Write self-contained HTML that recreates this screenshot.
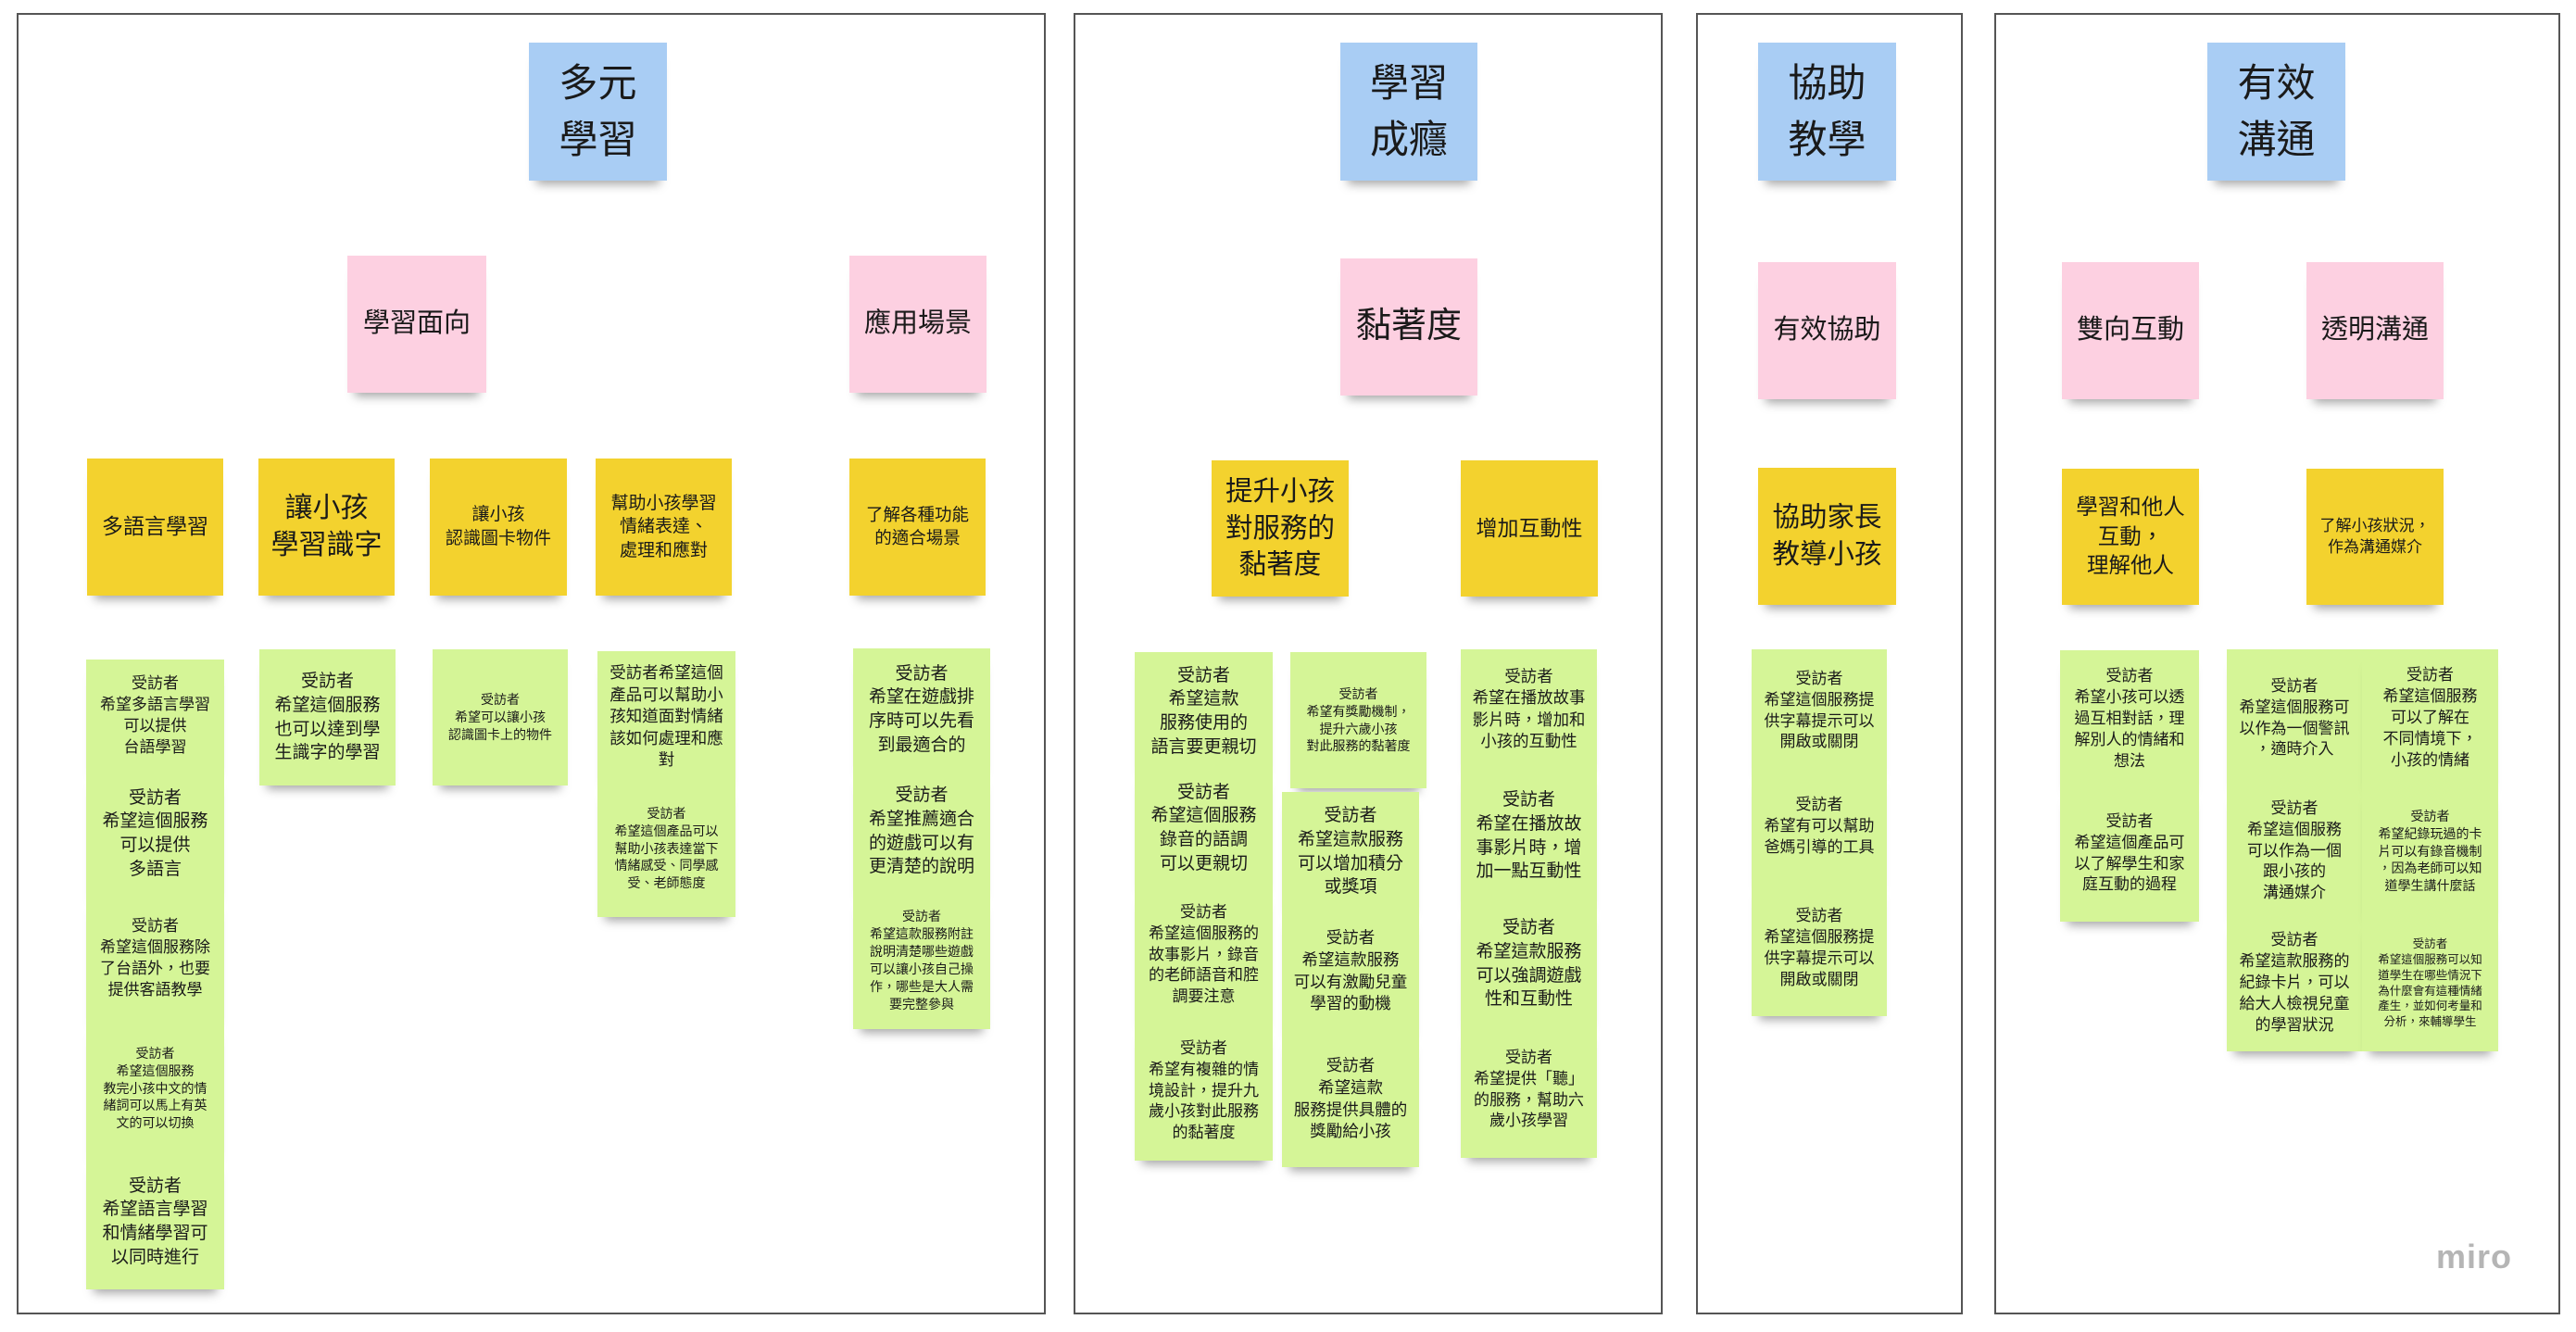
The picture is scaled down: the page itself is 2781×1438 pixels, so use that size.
<!DOCTYPE html>
<html><head><meta charset="utf-8"><style>
html,body{margin:0;padding:0;background:#fff;}
body{width:2781px;height:1438px;position:relative;overflow:hidden;font-family:"Liberation Sans","Noto Sans CJK TC",sans-serif;color:#1a1a1a;}
.f{position:absolute;border:2px solid #555;box-sizing:border-box;background:#fff;}
.s{position:absolute;display:flex;align-items:center;justify-content:center;text-align:center;box-sizing:border-box;line-height:1.35;box-shadow:0 12px 10px -8px rgba(0,0,0,.35);padding:0 4px;}
.b{background:#a9cdf4;font-size:42px;line-height:1.45;}
.p{background:#fdd0e1;font-size:29px;}
.y{background:#f3d22e;}
.g{background:#d5f597;}
.miro{position:absolute;left:2630px;top:1336px;font-size:36px;font-weight:bold;color:#b5b5b5;letter-spacing:1px;}
</style></head><body>
<div class="f" style="left:18px;top:14px;width:1111px;height:1405px"></div>
<div class="f" style="left:1159px;top:14px;width:636px;height:1405px"></div>
<div class="f" style="left:1831px;top:14px;width:288px;height:1405px"></div>
<div class="f" style="left:2153px;top:14px;width:611px;height:1405px"></div>

<div class="s b" style="left:571px;top:46px;width:149px;height:149px">多元<br>學習</div>
<div class="s b" style="left:1447px;top:46px;width:148px;height:149px">學習<br>成癮</div>
<div class="s b" style="left:1898px;top:46px;width:149px;height:149px">協助<br>教學</div>
<div class="s b" style="left:2383px;top:46px;width:149px;height:149px">有效<br>溝通</div>

<div class="s p" style="left:375px;top:276px;width:150px;height:148px">學習面向</div>
<div class="s p" style="left:917px;top:276px;width:148px;height:148px">應用場景</div>
<div class="s p" style="left:1447px;top:279px;width:148px;height:148px;font-size:38px">黏著度</div>
<div class="s p" style="left:1898px;top:283px;width:149px;height:148px">有效協助</div>
<div class="s p" style="left:2226px;top:283px;width:148px;height:148px">雙向互動</div>
<div class="s p" style="left:2490px;top:283px;width:148px;height:148px">透明溝通</div>

<div class="s y" style="left:94px;top:495px;width:147px;height:148px;font-size:23px">多語言學習</div>
<div class="s y" style="left:279px;top:495px;width:147px;height:148px;font-size:30px">讓小孩<br>學習識字</div>
<div class="s y" style="left:464px;top:495px;width:148px;height:148px;font-size:19px">讓小孩<br>認識圖卡物件</div>
<div class="s y" style="left:643px;top:495px;width:147px;height:148px;font-size:19px">幫助小孩學習<br>情緒表達、<br>處理和應對</div>
<div class="s y" style="left:917px;top:495px;width:147px;height:148px;font-size:18.5px">了解各種功能<br>的適合場景</div>
<div class="s y" style="left:1308px;top:497px;width:148px;height:147px;font-size:29.5px">提升小孩<br>對服務的<br>黏著度</div>
<div class="s y" style="left:1577px;top:497px;width:148px;height:147px;font-size:23px">增加互動性</div>
<div class="s y" style="left:1898px;top:505px;width:149px;height:148px;font-size:29.5px">協助家長<br>教導小孩</div>
<div class="s y" style="left:2226px;top:506px;width:148px;height:147px;font-size:23.5px">學習和他人<br>互動，<br>理解他人</div>
<div class="s y" style="left:2490px;top:506px;width:148px;height:147px;font-size:17px">了解小孩狀況，<br>作為溝通媒介</div>

<div class="s g" style="left:93px;top:712px;width:149px;height:122px;font-size:17px">受訪者<br>希望多語言學習<br>可以提供<br>台語學習</div>
<div class="s g" style="left:93px;top:831px;width:149px;height:138px;font-size:19px">受訪者<br>希望這個服務<br>可以提供<br>多語言</div>
<div class="s g" style="left:93px;top:966px;width:149px;height:138px;font-size:17px">受訪者<br>希望這個服務除<br>了台語外，也要<br>提供客語教學</div>
<div class="s g" style="left:93px;top:1101px;width:149px;height:148px;font-size:14px">受訪者<br>希望這個服務<br>教完小孩中文的情<br>緒詞可以馬上有英<br>文的可以切換</div>
<div class="s g" style="left:93px;top:1246px;width:149px;height:146px;font-size:19px">受訪者<br>希望語言學習<br>和情緒學習可<br>以同時進行</div>

<div class="s g" style="left:280px;top:701px;width:147px;height:147px;font-size:19px">受訪者<br>希望這個服務<br>也可以達到學<br>生識字的學習</div>
<div class="s g" style="left:467px;top:701px;width:146px;height:147px;font-size:14px">受訪者<br>希望可以讓小孩<br>認識圖卡上的物件</div>

<div class="s g" style="left:645px;top:703px;width:149px;height:142px;font-size:17.5px">受訪者希望這個<br>產品可以幫助小<br>孩知道面對情緒<br>該如何處理和應<br>對</div>
<div class="s g" style="left:645px;top:842px;width:149px;height:148px;font-size:14px">受訪者<br>希望這個產品可以<br>幫助小孩表達當下<br>情緒感受、同學感<br>受、老師態度</div>

<div class="s g" style="left:921px;top:700px;width:148px;height:132px;font-size:19px">受訪者<br>希望在遊戲排<br>序時可以先看<br>到最適合的</div>
<div class="s g" style="left:921px;top:829px;width:148px;height:137px;font-size:19px">受訪者<br>希望推薦適合<br>的遊戲可以有<br>更清楚的說明</div>
<div class="s g" style="left:921px;top:963px;width:148px;height:148px;font-size:14px">受訪者<br>希望這款服務附註<br>說明清楚哪些遊戲<br>可以讓小孩自己操<br>作，哪些是大人需<br>要完整參與</div>

<div class="s g" style="left:1225px;top:704px;width:149px;height:128px;font-size:19px">受訪者<br>希望這款<br>服務使用的<br>語言要更親切</div>
<div class="s g" style="left:1225px;top:829px;width:149px;height:130px;font-size:19px">受訪者<br>希望這個服務<br>錄音的語調<br>可以更親切</div>
<div class="s g" style="left:1225px;top:956px;width:149px;height:150px;font-size:17px">受訪者<br>希望這個服務的<br>故事影片，錄音<br>的老師語音和腔<br>調要注意</div>
<div class="s g" style="left:1225px;top:1103px;width:149px;height:150px;font-size:17px">受訪者<br>希望有複雜的情<br>境設計，提升九<br>歲小孩對此服務<br>的黏著度</div>

<div class="s g" style="left:1393px;top:704px;width:147px;height:147px;font-size:14px">受訪者<br>希望有獎勵機制，<br>提升六歲小孩<br>對此服務的黏著度</div>
<div class="s g" style="left:1384px;top:855px;width:148px;height:129px;font-size:19px">受訪者<br>希望這款服務<br>可以增加積分<br>或獎項</div>
<div class="s g" style="left:1384px;top:981px;width:148px;height:135px;font-size:17.5px">受訪者<br>希望這款服務<br>可以有激勵兒童<br>學習的動機</div>
<div class="s g" style="left:1384px;top:1113px;width:148px;height:147px;font-size:17.5px">受訪者<br>希望這款<br>服務提供具體的<br>獎勵給小孩</div>

<div class="s g" style="left:1577px;top:701px;width:147px;height:129px;font-size:17.4px">受訪者<br>希望在播放故事<br>影片時，增加和<br>小孩的互動性</div>
<div class="s g" style="left:1577px;top:827px;width:147px;height:151px;font-size:19px">受訪者<br>希望在播放故<br>事影片時，增<br>加一點互動性</div>
<div class="s g" style="left:1577px;top:975px;width:147px;height:131px;font-size:19px">受訪者<br>希望這款服務<br>可以強調遊戲<br>性和互動性</div>
<div class="s g" style="left:1577px;top:1103px;width:147px;height:147px;font-size:17px">受訪者<br>希望提供「聽」<br>的服務，幫助六<br>歲小孩學習</div>

<div class="s g" style="left:1891px;top:701px;width:146px;height:133px;font-size:17px">受訪者<br>希望這個服務提<br>供字幕提示可以<br>開啟或關閉</div>
<div class="s g" style="left:1891px;top:831px;width:146px;height:123px;font-size:17px">受訪者<br>希望有可以幫助<br>爸媽引導的工具</div>
<div class="s g" style="left:1891px;top:951px;width:146px;height:146px;font-size:17px">受訪者<br>希望這個服務提<br>供字幕提示可以<br>開啟或關閉</div>

<div class="s g" style="left:2224px;top:702px;width:150px;height:149px;font-size:17px">受訪者<br>希望小孩可以透<br>過互相對話，理<br>解別人的情緒和<br>想法</div>
<div class="s g" style="left:2224px;top:848px;width:150px;height:147px;font-size:17px">受訪者<br>希望這個產品可<br>以了解學生和家<br>庭互動的過程</div>

<div class="s g" style="left:2404px;top:701px;width:146px;height:149px;font-size:17px">受訪者<br>希望這個服務可<br>以作為一個警訊<br>，適時介入</div>
<div class="s g" style="left:2404px;top:847px;width:146px;height:144px;font-size:17px">受訪者<br>希望這個服務<br>可以作為一個<br>跟小孩的<br>溝通媒介</div>
<div class="s g" style="left:2404px;top:988px;width:146px;height:147px;font-size:17px">受訪者<br>希望這款服務的<br>紀錄卡片，可以<br>給大人檢視兒童<br>的學習狀況</div>

<div class="s g" style="left:2550px;top:701px;width:147px;height:149px;font-size:17px">受訪者<br>希望這個服務<br>可以了解在<br>不同情境下，<br>小孩的情緒</div>
<div class="s g" style="left:2550px;top:847px;width:147px;height:144px;font-size:14px">受訪者<br>希望紀錄玩過的卡<br>片可以有錄音機制<br>，因為老師可以知<br>道學生講什麼話</div>
<div class="s g" style="left:2550px;top:988px;width:147px;height:147px;font-size:12.5px">受訪者<br>希望這個服務可以知<br>道學生在哪些情況下<br>為什麼會有這種情緒<br>產生，並如何考量和<br>分析，來輔導學生</div>

<div class="miro">miro</div>
</body></html>
